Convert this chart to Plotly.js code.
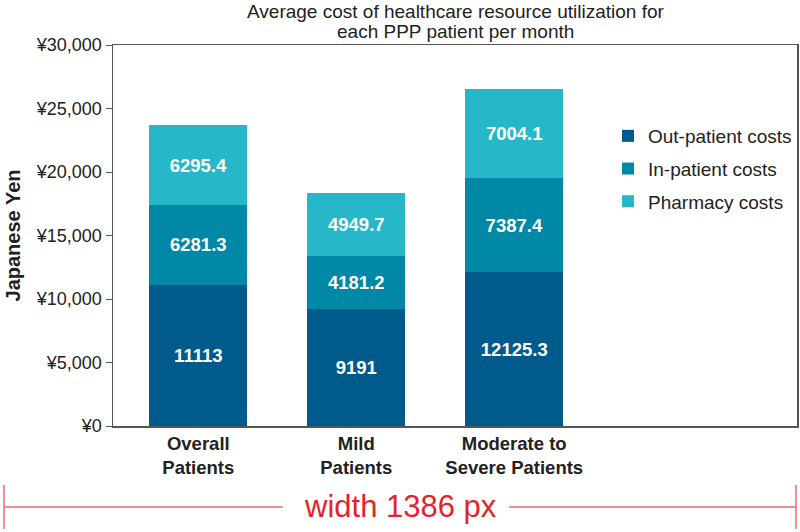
<!DOCTYPE html>
<html>
<head>
<meta charset="utf-8">
<script src="https://cdn.plot.ly/plotly-3.0.1.min.js"></script>
<style>html,body{margin:0;padding:0;background:#fff;}#chart{width:800px;height:532px;}</style>
</head>
<body>
<div id="chart"></div>
<script>
const categories = ["Overall<br>Patients", "Mild<br>Patients", "Moderate to<br>Severe Patients"];
const outPatient = [11113, 9191, 12125.3];
const inPatient = [6281.3, 4181.2, 7387.4];
const pharmacy = [6295.4, 4949.7, 7004.1];
const seriesNames = ["Out-patient costs", "In-patient costs", "Pharmacy costs"];
const seriesColors = ["#005a8c", "#0088a6", "#26b8c8"];
const yTickVals = [0, 5000, 10000, 15000, 20000, 25000, 30000];
const yTickText = ["¥0", "¥5,000", "¥10,000", "¥15,000", "¥20,000", "¥25,000", "¥30,000"];
const titleLines = ["Average cost of healthcare resource utilization for", "each PPP patient per month"];

const W = 800, H = 532, ML = 113, MR = 3, MT = 45, MB = 106;
const px2x = p => (p - ML) / (W - ML - MR);
const px2y = p => (H - MB - p) / (H - MT - MB);

const font = "Liberation Sans, Arial, sans-serif";
const seriesData = [outPatient, inPatient, pharmacy];
const traces = seriesData.map((vals, i) => ({
  type: "bar",
  x: [0, 1, 2],
  y: vals,
  name: seriesNames[i],
  legendgroup: "g" + i,
  marker: {color: seriesColors[i], line: {width: 0}},
  width: 0.62,
  text: vals.map(v => String(v)),
  textposition: "inside",
  insidetextanchor: "middle",
  textangle: 0,
  constraintext: "none",
  textfont: {color: "#ffffff", size: 18.5, family: font, weight: "bold"},
  hoverinfo: "skip"
}));

const red = "#e3232b";
const titleAnnotations = titleLines.map((t, i) => ({
  text: t, xref: "paper", yref: "paper", x: 0.5, y: px2y(12 + 20 * i),
  xanchor: "center", yanchor: "middle", showarrow: false,
  font: {size: 19, color: "#222222", family: font}
}));

const layout = {
  width: W, height: H,
  margin: {l: ML, r: MR, t: MT, b: MB},
  paper_bgcolor: "#ffffff",
  plot_bgcolor: "#ffffff",
  barmode: "stack",
  bargap: 0,
  showlegend: true,
  font: {family: font, color: "#222222"},
  xaxis: {
    range: [-0.54, 3.79],
    tickvals: [0, 1, 2],
    ticktext: categories.map(c => "<b>" + c + "</b>"),
    tickfont: {size: 18.5, color: "#222222", family: font},
    ticks: "",
    showgrid: false,
    zeroline: false,
    showline: true,
    linecolor: "#555555",
    linewidth: 1.5,
    mirror: true,
    fixedrange: true
  },
  yaxis: {
    range: [0, 30000],
    tickvals: yTickVals,
    ticktext: yTickText,
    tickfont: {size: 18, color: "#222222", family: font},
    ticks: "outside",
    ticklen: 6,
    tickcolor: "#555555",
    showgrid: false,
    zeroline: false,
    showline: true,
    linecolor: "#555555",
    linewidth: 1.5,
    mirror: true,
    title: {text: "<b>Japanese Yen</b>", font: {size: 20, color: "#222222", family: font}, standoff: 10},
    fixedrange: true
  },
  legend: {
    x: px2x(608), xanchor: "left",
    y: px2y(117), yanchor: "top",
    traceorder: "grouped",
    font: {size: 19, color: "#222222", family: font},
    bgcolor: "rgba(0,0,0,0)",
    tracegroupgap: 5,
    itemwidth: 30
  },
  shapes: [
    {type: "line", xref: "paper", yref: "paper", x0: px2x(4), x1: px2x(283), y0: px2y(507), y1: px2y(507), line: {color: "#ee6b6b", width: 1.5}},
    {type: "line", xref: "paper", yref: "paper", x0: px2x(509), x1: px2x(796), y0: px2y(507), y1: px2y(507), line: {color: "#ee6b6b", width: 1.5}},
    {type: "line", xref: "paper", yref: "paper", x0: px2x(4), x1: px2x(4), y0: px2y(485), y1: px2y(529), line: {color: "#ee6b6b", width: 1.5}},
    {type: "line", xref: "paper", yref: "paper", x0: px2x(796), x1: px2x(796), y0: px2y(485), y1: px2y(529), line: {color: "#ee6b6b", width: 1.5}}
  ],
  annotations: titleAnnotations.concat([
    {text: "width 1386 px", xref: "paper", yref: "paper", x: px2x(400), y: px2y(506), xanchor: "center", yanchor: "middle", showarrow: false, font: {size: 31, color: red, family: font}}
  ])
};

Plotly.newPlot("chart", traces, layout, {displayModeBar: false, staticPlot: true});
</script>
</body>
</html>
